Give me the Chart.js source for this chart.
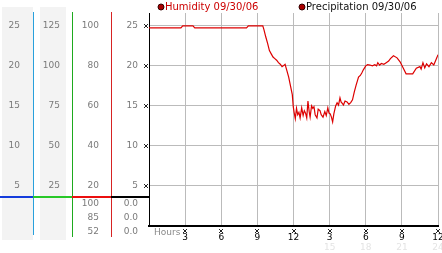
<!DOCTYPE html>
<html><head><meta charset="utf-8">
<script src="https://cdn.jsdelivr.net/npm/chart.js@4/dist/chart.umd.min.js"></script>
<style>html,body{margin:0;padding:0;background:#fff;overflow:hidden}#wrap{width:442px;height:253px;position:relative}canvas{display:block}</style>
</head><body><div id="wrap"><canvas id="c" width="442" height="253"></canvas></div>
<script>
// ---- data ----
const hours = [0,2.65,2.8,3.65,3.8,8.1,8.25,9.45,9.55,9.7,9.85,10.0,10.15,10.3,10.45,10.6,10.75,10.9,11.05,11.15,11.3,11.45,11.6,11.75,11.9,11.98,12.05,12.15,12.25,12.35,12.45,12.55,12.68,12.8,12.9,13.0,13.1,13.2,13.3,13.38,13.5,13.6,13.7,13.8,13.95,14.05,14.2,14.3,14.45,14.6,14.72,14.85,14.95,15.05,15.15,15.25,15.35,15.5,15.62,15.74,15.86,15.95,16.05,16.15,16.28,16.45,16.6,16.75,16.9,17.05,17.2,17.3,17.4,17.55,17.67,17.8,18.0,18.15,18.35,18.55,18.75,18.9,19.0,19.15,19.3,19.5,19.7,19.9,20.05,20.3,20.6,20.85,21.1,21.35,21.9,22.2,22.5,22.6,22.75,22.9,23.05,23.25,23.45,23.65,23.9,24.0];
const humidity = [24.75,24.75,25.0,25.0,24.75,24.75,25.0,25.0,24.5,23.6,22.8,21.9,21.5,21.1,20.9,20.7,20.4,20.2,19.9,20.0,20.2,19.4,18.6,17.5,16.4,14.9,14.2,13.4,14.7,13.9,14.2,13.5,14.75,13.8,14.4,14.1,13.5,15.6,14.3,13.6,15.0,14.7,14.9,13.9,13.5,14.6,14.4,13.9,13.6,14.3,13.8,14.75,14.1,14.0,13.6,13.0,14.0,15.0,15.4,15.1,16.0,15.5,15.3,15.1,15.6,15.5,15.2,15.4,15.75,16.75,17.6,18.1,18.6,18.8,19.1,19.5,20.0,20.15,20.1,20.0,20.15,20.0,20.4,20.1,20.3,20.2,20.4,20.6,20.9,21.25,21.0,20.5,19.75,19.0,19.0,19.7,19.9,19.6,20.4,19.75,20.25,19.9,20.4,20.1,21.0,21.4];
const precipHours = [0,3,6,9,12,15,18,21,24];
const precipitation = [0,0,0,0,0,0,0,0,0];
const seriesNames = ['Humidity 09/30/06','Precipitation 09/30/06'];

const hourTicks = [0,3,6,9,12,15,18,21,24];
const hourLabels = ['','3','6','9','12','3','6','9','12'];
const hourLabels24 = ['','','','','','15','18','21','24'];
const humidityTicks = [5,10,15,20,25];
const col3Ticks = [20,40,60,80,100];
const col2Ticks = [25,50,75,100,125];
const col1Ticks = [5,10,15,20,25];
const col3Current = ['100','85','52'];
const col4Current = ['0.0','0.0','0.0'];
const Y_MAX = 26.6;

const FONT = 'DejaVu Sans';
const GRID = '#bbbbbb';

function leftAxis(arr, weight, width, padding) {
  const f = arr[arr.length - 1] / humidityTicks[humidityTicks.length - 1];
  return {
    type: 'linear', position: 'left', weight: weight, min: 0, max: Y_MAX * f,
    afterBuildTicks: s => { s.ticks = arr.map(v => ({ value: v })); },
    afterFit: s => { s.width = width; s.paddingTop = 0; s.paddingBottom = 0; },
    grid: { display: false, drawTicks: false },
    border: { display: false },
    ticks: { color: '#7a7a7a', font: { family: FONT, size: 9 }, padding: padding }
  };
}

function glyph(ctx, x, y) {
  ctx.fillStyle = '#222';
  const px = [[0,0],[3,0],[1,1],[2,1],[1,2],[2,2],[0,3],[3,3]];
  px.forEach(p => ctx.fillRect(x + p[0], y + p[1], 1, 1));
}

const decor = {
  id: 'decor',
  beforeDraw(chart) {
    const ctx = chart.ctx, s = chart.scales;
    ctx.save();
    ctx.fillStyle = '#f3f3f3';
    ctx.fillRect(s.c1.left + 2, 7, s.c1.right - s.c1.left - 2, 233);
    ctx.fillRect(s.c2.left + 7, 7, s.c2.right - s.c2.left - 13, 233);
    ctx.restore();
  },
  afterDraw(chart) {
    const ctx = chart.ctx, s = chart.scales, a = chart.chartArea;
    const r1 = Math.round(s.c1.right), r2 = Math.round(s.c2.right), r3 = Math.round(s.c3.right), L = Math.round(a.left);
    ctx.save();
    // column divider lines
    ctx.fillStyle = 'rgb(40,160,220)'; ctx.fillRect(r1, 12, 1, 223);
    ctx.fillStyle = 'rgb(30,170,30)'; ctx.fillRect(r2, 12, 1, 225);
    ctx.fillStyle = 'rgb(215,35,35)'; ctx.fillRect(r3, 12, 1, 225);
    // separator
    const sy = Math.round(a.bottom) - 30;
    ctx.fillStyle = 'rgb(20,60,220)'; ctx.fillRect(0, sy, r1, 2);
    ctx.fillStyle = 'rgb(40,200,40)'; ctx.fillRect(r1, sy, r2 - r1, 2);
    ctx.fillStyle = 'rgb(235,15,15)'; ctx.fillRect(r2, sy, r3 - r2, 2);
    ctx.fillStyle = 'rgb(0,0,0)'; ctx.fillRect(r3, sy, L - r3, 2);
    // current values table
    ctx.font = '9px "' + FONT + '"';
    ctx.fillStyle = '#7a7a7a';
    ctx.textAlign = 'right'; ctx.textBaseline = 'middle';
    col3Current.forEach((t, i) => ctx.fillText(t, r3 - 12, a.bottom - 22 + i * 14));
    col4Current.forEach((t, i) => ctx.fillText(t, L - 11, a.bottom - 22 + i * 14));
    // Hours label
    ctx.textAlign = 'left'; ctx.fillStyle = '#8a8a8a';
    ctx.fillText('Hours', L + 5, a.bottom + 7);
    // tick glyphs
    s.y.ticks.forEach(t => glyph(ctx, L - 5, Math.round(s.y.getPixelForValue(t.value)) - 2));
    s.x.ticks.forEach(t => { if (t.value > 0) glyph(ctx, Math.round(s.x.getPixelForValue(t.value)) - 2, a.bottom + 3); });
    // legend
    const items = [
      { x: L + 12, color: '#cc0000' },
      { x: L + 153, color: '#111111' }
    ];
    ctx.font = '10px "' + FONT + '"';
    items.forEach((it, i) => {
      ctx.beginPath(); ctx.arc(it.x, 7, 3, 0, Math.PI * 2);
      ctx.fillStyle = '#aa0000'; ctx.fill();
      ctx.lineWidth = 1; ctx.strokeStyle = '#330000'; ctx.stroke();
      ctx.fillStyle = it.color; ctx.textAlign = 'left'; ctx.textBaseline = 'middle';
      ctx.fillText(seriesNames[i], it.x + 4, 7);
    });
    ctx.restore();
  }
};

new Chart(document.getElementById('c'), {
  type: 'line',
  data: {
    datasets: [
      { label: seriesNames[0], data: hours.map((h, i) => ({ x: h, y: humidity[i] })),
        borderColor: '#dd0000', borderWidth: 1.2, pointRadius: 0, tension: 0, xAxisID: 'x', yAxisID: 'y' },
      { label: seriesNames[1], data: precipHours.map((h, i) => ({ x: h, y: precipitation[i] })),
        borderColor: '#000000', borderWidth: 2, pointRadius: 0, tension: 0, xAxisID: 'x', yAxisID: 'y' }
    ]
  },
  options: {
    responsive: false, animation: false, devicePixelRatio: 1,
    layout: { padding: { top: 13, right: 4, left: 0, bottom: 0 } },
    plugins: { legend: { display: false }, tooltip: { enabled: false } },
    scales: {
      x: {
        type: 'linear', position: 'bottom', weight: 0, min: 0, max: 24,
        afterBuildTicks: s => { s.ticks = hourTicks.map(v => ({ value: v })); },
        afterFit: s => { s.height = 16; s.paddingLeft = 0; s.paddingRight = 0; },
        ticks: { callback: (v, i) => hourLabels[i], color: '#000', font: { family: FONT, size: 9 }, padding: 6, maxRotation: 0, autoSkip: false },
        grid: { color: c => (c.tick && c.tick.value === 0) ? 'rgba(0,0,0,0)' : GRID, drawTicks: false },
        border: { color: '#000', width: 2 }
      },
      x2: {
        type: 'linear', position: 'bottom', weight: 1, min: 0, max: 24,
        afterBuildTicks: s => { s.ticks = hourTicks.map(v => ({ value: v })); },
        afterFit: s => { s.height = 11; s.paddingLeft = 0; s.paddingRight = 0; },
        ticks: { callback: (v, i) => hourLabels24[i], color: '#e4e4e4', font: { family: FONT, size: 9 }, padding: 0, maxRotation: 0, autoSkip: false },
        grid: { display: false, drawTicks: false },
        border: { display: false }
      },
      y: {
        type: 'linear', position: 'left', weight: 0, min: 0, max: Y_MAX,
        afterBuildTicks: s => { s.ticks = humidityTicks.map(v => ({ value: v })); },
        afterFit: s => { s.width = 38; s.paddingTop = 0; s.paddingBottom = 0; },
        ticks: { color: '#7a7a7a', font: { family: FONT, size: 9 }, padding: 11 },
        grid: { color: GRID, drawTicks: false },
        border: { color: '#000', width: 1 }
      },
      c3: leftAxis(col3Ticks, 1, 39, 12),
      c2: leftAxis(col2Ticks, 2, 39, 12),
      c1: leftAxis(col1Ticks, 3, 33, 13)
    }
  },
  plugins: [decor]
});
</script>
</body></html>
